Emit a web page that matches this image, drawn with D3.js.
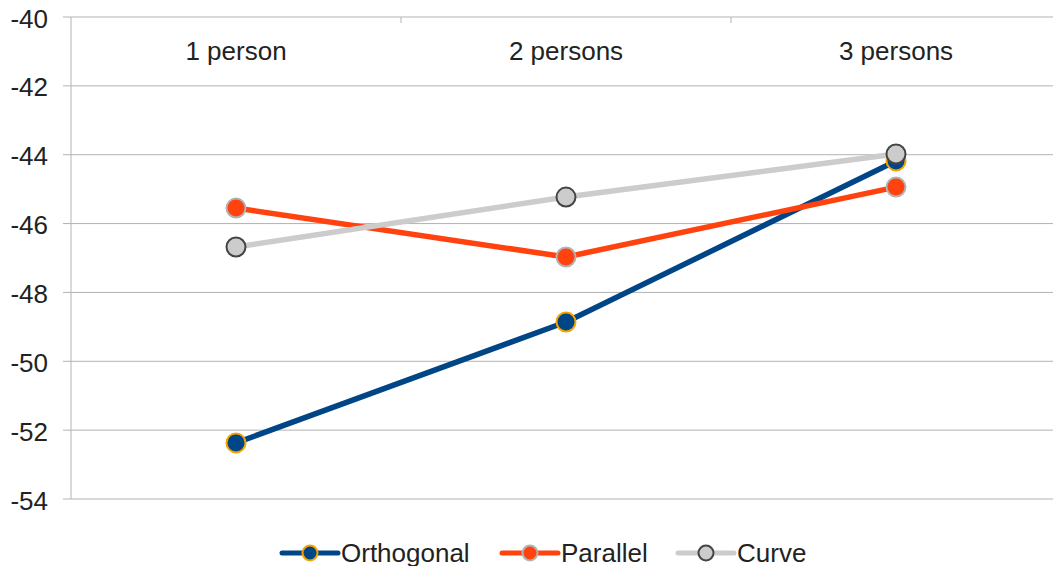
<!DOCTYPE html>
<html>
<head>
<meta charset="utf-8">
<script src="https://cdn.jsdelivr.net/npm/d3@7"></script>
<style>
  body { margin: 0; background: #fff; }
  svg { display: block; }
  text { font-family: "Liberation Sans", Arial, sans-serif; fill: #222; }
</style>
</head>
<body>
<svg id="chart" width="1053" height="566"></svg>
<script>
const categories = ["1 person", "2 persons", "3 persons"];
const orthogonal = [-52.37, -48.86, -44.18];
const parallel = [-45.55, -46.97, -44.94];
const curve = [-46.68, -45.23, -43.98];
const yTicks = [-40, -42, -44, -46, -48, -50, -52, -54];

const series = [
  { name: "Orthogonal", values: orthogonal, line: "#004586", fill: "#004586", stroke: "#f5a300" },
  { name: "Parallel", values: parallel, line: "#ff420e", fill: "#ff420e", stroke: "#b3b3b3" },
  { name: "Curve", values: curve, line: "#cccccc", fill: "#cccccc", stroke: "#444444" }
];

const svg = d3.select("#chart");
const plotLeft = 71, plotRight = 1061, plotTop = 17, plotBottom = 499;
const fontSize = "26px";

const x = d3.scalePoint().domain(categories).range([plotLeft, plotRight]).padding(0.5);
const xBand = d3.scaleBand().domain(categories).range([plotLeft, plotRight]);
const y = d3.scaleLinear().domain([-54, -40]).range([plotBottom, plotTop]);

// horizontal grid
svg.append("g")
  .selectAll("line").data(yTicks).join("line")
  .attr("x1", plotLeft - 8).attr("x2", plotRight)
  .attr("y1", d => y(d)).attr("y2", d => y(d))
  .attr("stroke", "#b3b3b3").attr("stroke-width", 1);

// left axis line
svg.append("line")
  .attr("x1", plotLeft).attr("x2", plotLeft).attr("y1", plotTop).attr("y2", plotBottom)
  .attr("stroke", "#b3b3b3");

// small ticks at category boundaries along the top
svg.append("g")
  .selectAll("line").data(categories.slice(1)).join("line")
  .attr("x1", d => xBand(d)).attr("x2", d => xBand(d))
  .attr("y1", plotTop).attr("y2", plotTop + 6)
  .attr("stroke", "#b3b3b3");

// y tick labels
svg.append("g")
  .selectAll("text").data(yTicks).join("text")
  .attr("x", 48).attr("y", d => y(d) + 1.5)
  .attr("text-anchor", "end").attr("dominant-baseline", "central")
  .style("font-size", fontSize)
  .text(d => d);

// category labels
svg.append("g")
  .selectAll("text").data(categories).join("text")
  .attr("x", d => x(d)).attr("y", 51)
  .attr("text-anchor", "middle").attr("dominant-baseline", "central")
  .style("font-size", fontSize)
  .text(d => d);

const line = d3.line().x((d, i) => x(categories[i])).y(d => y(d));

series.forEach(s => {
  const g = svg.append("g");
  g.append("path").datum(s.values)
    .attr("d", line).attr("fill", "none")
    .attr("stroke", s.line).attr("stroke-width", 5.5)
    .attr("stroke-linejoin", "round");
  g.selectAll("circle").data(s.values).join("circle")
    .attr("cx", (d, i) => x(categories[i])).attr("cy", d => y(d))
    .attr("r", 9.5)
    .attr("fill", s.fill).attr("stroke", s.stroke).attr("stroke-width", 2);
});

// legend
const legendItems = [
  { s: series[0], x0: 282, tx: 341 },
  { s: series[1], x0: 502, tx: 561 },
  { s: series[2], x0: 678, tx: 737 }
];
const ly = 553;
legendItems.forEach(it => {
  const g = svg.append("g");
  g.append("line")
    .attr("x1", it.x0).attr("x2", it.x0 + 56).attr("y1", ly).attr("y2", ly)
    .attr("stroke", it.s.line).attr("stroke-width", 5).attr("stroke-linecap", "round");
  g.append("circle")
    .attr("cx", it.x0 + 28).attr("cy", ly).attr("r", 7.5)
    .attr("fill", it.s.fill).attr("stroke", it.s.stroke).attr("stroke-width", 2);
  g.append("text")
    .attr("x", it.tx).attr("y", ly).attr("dominant-baseline", "central")
    .style("font-size", fontSize)
    .text(it.s.name);
});
</script>
</body>
</html>
